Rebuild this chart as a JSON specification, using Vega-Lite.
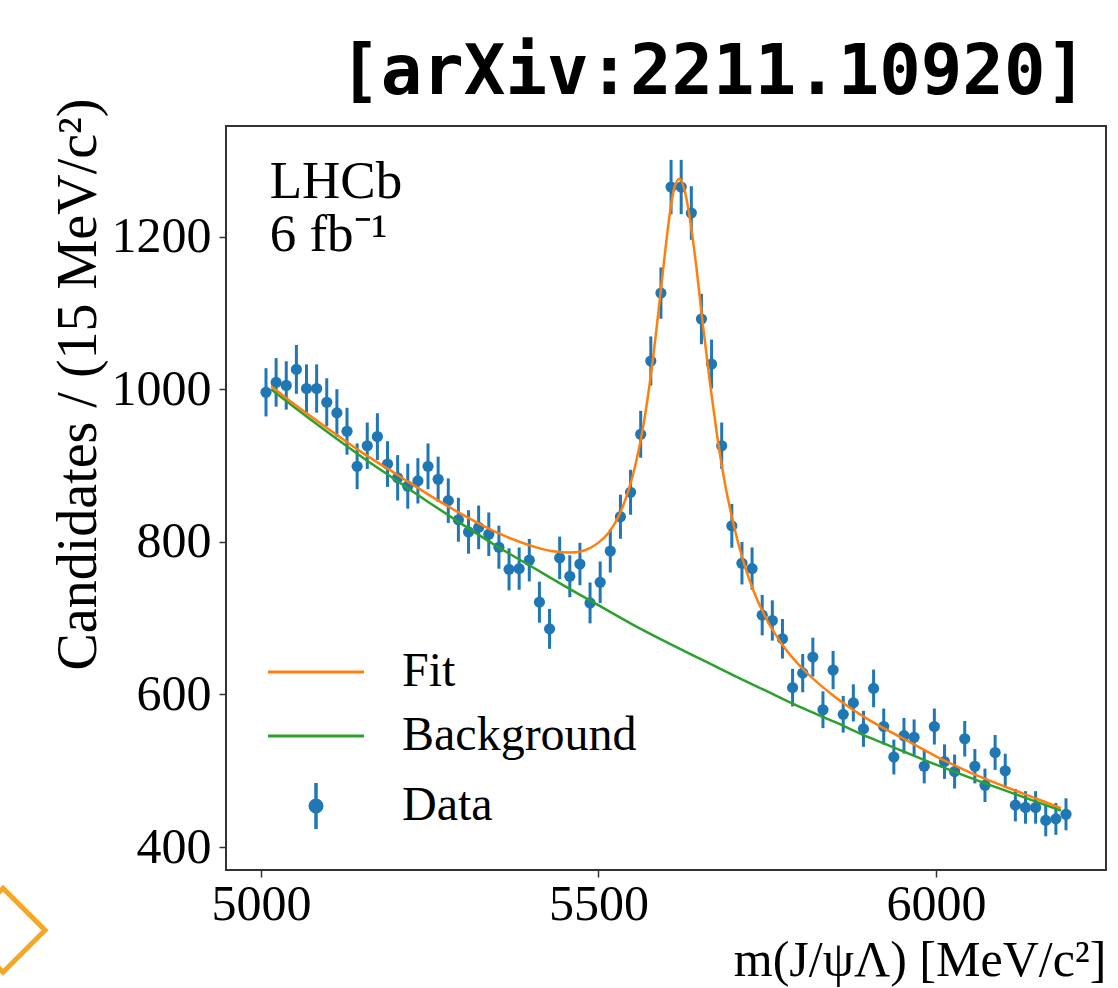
{
  "$schema": "https://vega.github.io/schema/vega-lite/v6.json",
  "width": 880,
  "height": 744,
  "autosize": {"type": "none"},
  "padding": {"left": 226, "top": 126, "right": 12, "bottom": 118},
  "background": "white",
  "title": {
    "text": "[arXiv:2211.10920]",
    "anchor": "end",
    "frame": "group",
    "font": "DejaVu Sans Mono",
    "fontWeight": "bold",
    "fontSize": 69,
    "color": "black",
    "dx": -19,
    "offset": -65,
    "baseline": "alphabetic"
  },
  "config": {
    "view": {"stroke": "#333333", "strokeWidth": 2},
    "axis": {
      "grid": false,
      "domain": false,
      "tickSize": 7,
      "tickWidth": 1.5,
      "tickColor": "#333333",
      "labelFont": "Liberation Serif",
      "labelFontSize": 50,
      "labelColor": "black",
      "titleFont": "Liberation Serif",
      "titleFontSize": 50,
      "titleFontWeight": "normal",
      "titleColor": "black",
      "labelFlush": false,
      "labelOverlap": false,
      "format": "d"
    }
  },
  "datasets": {
    "counts": [
      {"m": 5007.5, "n": 996, "lo": 964.4, "hi": 1027.6},
      {"m": 5022.5, "n": 1009, "lo": 977.2, "hi": 1040.8},
      {"m": 5037.5, "n": 1005, "lo": 973.3, "hi": 1036.7},
      {"m": 5052.5, "n": 1026, "lo": 994.0, "hi": 1058.0},
      {"m": 5067.5, "n": 1001, "lo": 969.4, "hi": 1032.6},
      {"m": 5082.5, "n": 1001, "lo": 969.4, "hi": 1032.6},
      {"m": 5097.5, "n": 983, "lo": 951.6, "hi": 1014.4},
      {"m": 5112.5, "n": 969, "lo": 937.9, "hi": 1000.1},
      {"m": 5127.5, "n": 945, "lo": 914.3, "hi": 975.7},
      {"m": 5142.5, "n": 899, "lo": 869.0, "hi": 929.0},
      {"m": 5157.5, "n": 926, "lo": 895.6, "hi": 956.4},
      {"m": 5172.5, "n": 938, "lo": 907.4, "hi": 968.6},
      {"m": 5187.5, "n": 902, "lo": 872.0, "hi": 932.0},
      {"m": 5202.5, "n": 884, "lo": 854.3, "hi": 913.7},
      {"m": 5217.5, "n": 873, "lo": 843.5, "hi": 902.5},
      {"m": 5232.5, "n": 880, "lo": 850.3, "hi": 909.7},
      {"m": 5247.5, "n": 899, "lo": 869.0, "hi": 929.0},
      {"m": 5262.5, "n": 882, "lo": 852.3, "hi": 911.7},
      {"m": 5277.5, "n": 854, "lo": 824.8, "hi": 883.2},
      {"m": 5292.5, "n": 829, "lo": 800.2, "hi": 857.8},
      {"m": 5307.5, "n": 813, "lo": 784.5, "hi": 841.5},
      {"m": 5322.5, "n": 819, "lo": 790.4, "hi": 847.6},
      {"m": 5337.5, "n": 810, "lo": 781.5, "hi": 838.5},
      {"m": 5352.5, "n": 793, "lo": 764.8, "hi": 821.2},
      {"m": 5367.5, "n": 764, "lo": 736.4, "hi": 791.6},
      {"m": 5382.5, "n": 765, "lo": 737.3, "hi": 792.7},
      {"m": 5397.5, "n": 776, "lo": 748.1, "hi": 803.9},
      {"m": 5412.5, "n": 721, "lo": 694.1, "hi": 747.9},
      {"m": 5427.5, "n": 686, "lo": 659.8, "hi": 712.2},
      {"m": 5442.5, "n": 779, "lo": 751.1, "hi": 806.9},
      {"m": 5457.5, "n": 755, "lo": 727.5, "hi": 782.5},
      {"m": 5472.5, "n": 771, "lo": 743.2, "hi": 798.8},
      {"m": 5487.5, "n": 720, "lo": 693.2, "hi": 746.8},
      {"m": 5502.5, "n": 747, "lo": 719.7, "hi": 774.3},
      {"m": 5517.5, "n": 788, "lo": 759.9, "hi": 816.1},
      {"m": 5532.5, "n": 833, "lo": 804.1, "hi": 861.9},
      {"m": 5547.5, "n": 865, "lo": 835.6, "hi": 894.4},
      {"m": 5562.5, "n": 941, "lo": 910.3, "hi": 971.7},
      {"m": 5577.5, "n": 1037, "lo": 1004.8, "hi": 1069.2},
      {"m": 5592.5, "n": 1126, "lo": 1092.4, "hi": 1159.6},
      {"m": 5607.5, "n": 1265, "lo": 1229.4, "hi": 1300.6},
      {"m": 5622.5, "n": 1265, "lo": 1229.4, "hi": 1300.6},
      {"m": 5637.5, "n": 1231, "lo": 1195.9, "hi": 1266.1},
      {"m": 5652.5, "n": 1092, "lo": 1059.0, "hi": 1125.0},
      {"m": 5667.5, "n": 1033, "lo": 1000.9, "hi": 1065.1},
      {"m": 5682.5, "n": 926, "lo": 895.6, "hi": 956.4},
      {"m": 5697.5, "n": 821, "lo": 792.3, "hi": 849.7},
      {"m": 5712.5, "n": 772, "lo": 744.2, "hi": 799.8},
      {"m": 5727.5, "n": 765, "lo": 737.3, "hi": 792.7},
      {"m": 5742.5, "n": 704, "lo": 677.5, "hi": 730.5},
      {"m": 5757.5, "n": 697, "lo": 670.6, "hi": 723.4},
      {"m": 5772.5, "n": 673, "lo": 647.1, "hi": 698.9},
      {"m": 5787.5, "n": 609, "lo": 584.3, "hi": 633.7},
      {"m": 5802.5, "n": 628, "lo": 602.9, "hi": 653.1},
      {"m": 5817.5, "n": 649, "lo": 623.5, "hi": 674.5},
      {"m": 5832.5, "n": 580, "lo": 555.9, "hi": 604.1},
      {"m": 5847.5, "n": 632, "lo": 606.9, "hi": 657.1},
      {"m": 5862.5, "n": 574, "lo": 550.0, "hi": 598.0},
      {"m": 5877.5, "n": 589, "lo": 564.7, "hi": 613.3},
      {"m": 5892.5, "n": 555, "lo": 531.4, "hi": 578.6},
      {"m": 5907.5, "n": 608, "lo": 583.3, "hi": 632.7},
      {"m": 5922.5, "n": 558, "lo": 534.4, "hi": 581.6},
      {"m": 5937.5, "n": 518, "lo": 495.2, "hi": 540.8},
      {"m": 5952.5, "n": 546, "lo": 522.6, "hi": 569.4},
      {"m": 5967.5, "n": 544, "lo": 520.7, "hi": 567.3},
      {"m": 5982.5, "n": 506, "lo": 483.5, "hi": 528.5},
      {"m": 5997.5, "n": 558, "lo": 534.4, "hi": 581.6},
      {"m": 6012.5, "n": 512, "lo": 489.4, "hi": 534.6},
      {"m": 6027.5, "n": 499, "lo": 476.7, "hi": 521.3},
      {"m": 6042.5, "n": 542, "lo": 518.7, "hi": 565.3},
      {"m": 6057.5, "n": 506, "lo": 483.5, "hi": 528.5},
      {"m": 6072.5, "n": 481, "lo": 459.1, "hi": 502.9},
      {"m": 6087.5, "n": 524, "lo": 501.1, "hi": 546.9},
      {"m": 6102.5, "n": 500, "lo": 477.6, "hi": 522.4},
      {"m": 6117.5, "n": 455, "lo": 433.7, "hi": 476.3},
      {"m": 6132.5, "n": 452, "lo": 430.7, "hi": 473.3},
      {"m": 6147.5, "n": 452, "lo": 430.7, "hi": 473.3},
      {"m": 6162.5, "n": 435, "lo": 414.1, "hi": 455.9},
      {"m": 6177.5, "n": 437, "lo": 416.1, "hi": 457.9},
      {"m": 6192.5, "n": 443, "lo": 422.0, "hi": 464.0}
    ],
    "fitcurve": [
      {"m": 5015, "n": 1004}, {"m": 5050, "n": 980}, {"m": 5100, "n": 948},
      {"m": 5150, "n": 917}, {"m": 5200, "n": 889}, {"m": 5250, "n": 861},
      {"m": 5300, "n": 835}, {"m": 5350, "n": 812}, {"m": 5400, "n": 795},
      {"m": 5430, "n": 788}, {"m": 5460, "n": 786}, {"m": 5480, "n": 789},
      {"m": 5500, "n": 799}, {"m": 5515, "n": 812}, {"m": 5530, "n": 834},
      {"m": 5545, "n": 869}, {"m": 5555, "n": 902}, {"m": 5565, "n": 945},
      {"m": 5575, "n": 1002}, {"m": 5585, "n": 1072}, {"m": 5595, "n": 1151},
      {"m": 5605, "n": 1226}, {"m": 5612, "n": 1263}, {"m": 5620, "n": 1276},
      {"m": 5628, "n": 1259}, {"m": 5635, "n": 1226}, {"m": 5645, "n": 1160},
      {"m": 5655, "n": 1082}, {"m": 5665, "n": 1009}, {"m": 5675, "n": 944},
      {"m": 5685, "n": 888}, {"m": 5700, "n": 823}, {"m": 5715, "n": 773},
      {"m": 5730, "n": 735}, {"m": 5750, "n": 697}, {"m": 5775, "n": 662},
      {"m": 5800, "n": 636}, {"m": 5850, "n": 597}, {"m": 5900, "n": 567},
      {"m": 5950, "n": 543}, {"m": 6000, "n": 519}, {"m": 6050, "n": 498},
      {"m": 6100, "n": 480}, {"m": 6150, "n": 463}, {"m": 6185, "n": 451}
    ],
    "bkgcurve": [
      {"m": 5015, "n": 1000}, {"m": 5050, "n": 976}, {"m": 5100, "n": 943},
      {"m": 5150, "n": 911}, {"m": 5200, "n": 881}, {"m": 5250, "n": 851},
      {"m": 5300, "n": 822}, {"m": 5350, "n": 794}, {"m": 5400, "n": 768},
      {"m": 5450, "n": 742}, {"m": 5500, "n": 717}, {"m": 5550, "n": 692},
      {"m": 5600, "n": 669}, {"m": 5650, "n": 647}, {"m": 5700, "n": 625},
      {"m": 5750, "n": 604}, {"m": 5800, "n": 583}, {"m": 5850, "n": 564},
      {"m": 5900, "n": 544}, {"m": 5950, "n": 526}, {"m": 6000, "n": 508},
      {"m": 6050, "n": 491}, {"m": 6100, "n": 475}, {"m": 6150, "n": 459},
      {"m": 6185, "n": 448}
    ]
  },
  "layer": [
    {
      "data": {"name": "counts"},
      "mark": {"type": "rule", "strokeWidth": 3},
      "encoding": {
        "x": {
          "field": "m", "type": "quantitative", "title": "m(J/ψΛ) [MeV/c²]",
          "scale": {"domain": [4948.25, 6251.75], "nice": false, "zero": false},
          "axis": {"values": [5000, 5500, 6000], "labelPadding": 2, "titleAnchor": "end", "titlePadding": 6}
        },
        "y": {
          "field": "lo", "type": "quantitative", "title": "Candidates / (15 MeV/c²)",
          "scale": {"domain": [370, 1345], "nice": false, "zero": false},
          "axis": {"values": [400, 600, 800, 1000, 1200], "labelPadding": 8, "titleAnchor": "end", "titleY": -28, "titlePadding": 4, "titleFontSize": 56}
        },
        "y2": {"field": "hi"},
        "color": {
          "datum": "Data",
          "scale": {"domain": ["Fit", "Background", "Data"], "range": ["#ff7f0e", "#2ca02c", "#1f77b4"]},
          "legend": {
            "title": null,
            "orient": "none",
            "legendX": 66,
            "legendY": 522,
            "padding": 0,
            "labelFont": "Liberation Serif",
            "labelFontSize": 48,
            "labelColor": "black",
            "labelLimit": 0,
            "labelOffset": 62,
            "symbolSize": 2116,
            "symbolOffset": 0,
            "rowPadding": 16,
            "encode": {
              "symbols": {
                "update": {
                  "shape": {"signal": "datum.value === 'Data' ? 'M0,-1L0,1M0.25,0A0.25,0.25,0,1,1,-0.25,0A0.25,0.25,0,1,1,0.25,0Z' : 'M-2.09,0L2.09,0'"},
                  "stroke": {"signal": "datum.value === 'Data' ? '#1f77b4' : (datum.value === 'Fit' ? '#ff7f0e' : '#2ca02c')"},
                  "fill": {"signal": "datum.value === 'Data' ? '#1f77b4' : 'transparent'"},
                  "strokeWidth": {"signal": "datum.value === 'Data' ? 3.5 : 3"},
                  "opacity": {"value": 1}
                }
              }
            }
          }
        }
      }
    },
    {
      "data": {"name": "counts"},
      "mark": {"type": "point", "filled": true, "size": 125, "opacity": 1},
      "encoding": {
        "x": {"field": "m", "type": "quantitative", "title": "m(J/ψΛ) [MeV/c²]"},
        "y": {"field": "n", "type": "quantitative", "title": "Candidates / (15 MeV/c²)"},
        "color": {"datum": "Data"}
      }
    },
    {
      "data": {"name": "bkgcurve"},
      "mark": {"type": "line", "strokeWidth": 2.5, "interpolate": "monotone"},
      "encoding": {
        "x": {"field": "m", "type": "quantitative", "title": "m(J/ψΛ) [MeV/c²]"},
        "y": {"field": "n", "type": "quantitative", "title": "Candidates / (15 MeV/c²)"},
        "color": {"datum": "Background"}
      }
    },
    {
      "data": {"name": "fitcurve"},
      "mark": {"type": "line", "strokeWidth": 2.5, "interpolate": "monotone"},
      "encoding": {
        "x": {"field": "m", "type": "quantitative", "title": "m(J/ψΛ) [MeV/c²]"},
        "y": {"field": "n", "type": "quantitative", "title": "Candidates / (15 MeV/c²)"},
        "color": {"datum": "Fit"}
      }
    },
    {
      "data": {"values": [{"label": ["LHCb", "6 fb⁻¹"]}]},
      "mark": {"type": "text", "align": "left", "baseline": "alphabetic", "font": "Liberation Serif", "fontSize": 53, "lineHeight": 53, "color": "black"},
      "encoding": {
        "x": {"datum": 5013},
        "y": {"datum": 1250},
        "text": {"field": "label"}
      }
    },
    {
      "data": {"values": [{"icon": "diamond"}]},
      "mark": {"type": "point", "shape": "diamond", "filled": false, "size": 7056, "strokeWidth": 5, "color": "#f5a623", "opacity": 1},
      "encoding": {
        "x": {"datum": 4618},
        "y": {"datum": 291}
      }
    }
  ]
}
